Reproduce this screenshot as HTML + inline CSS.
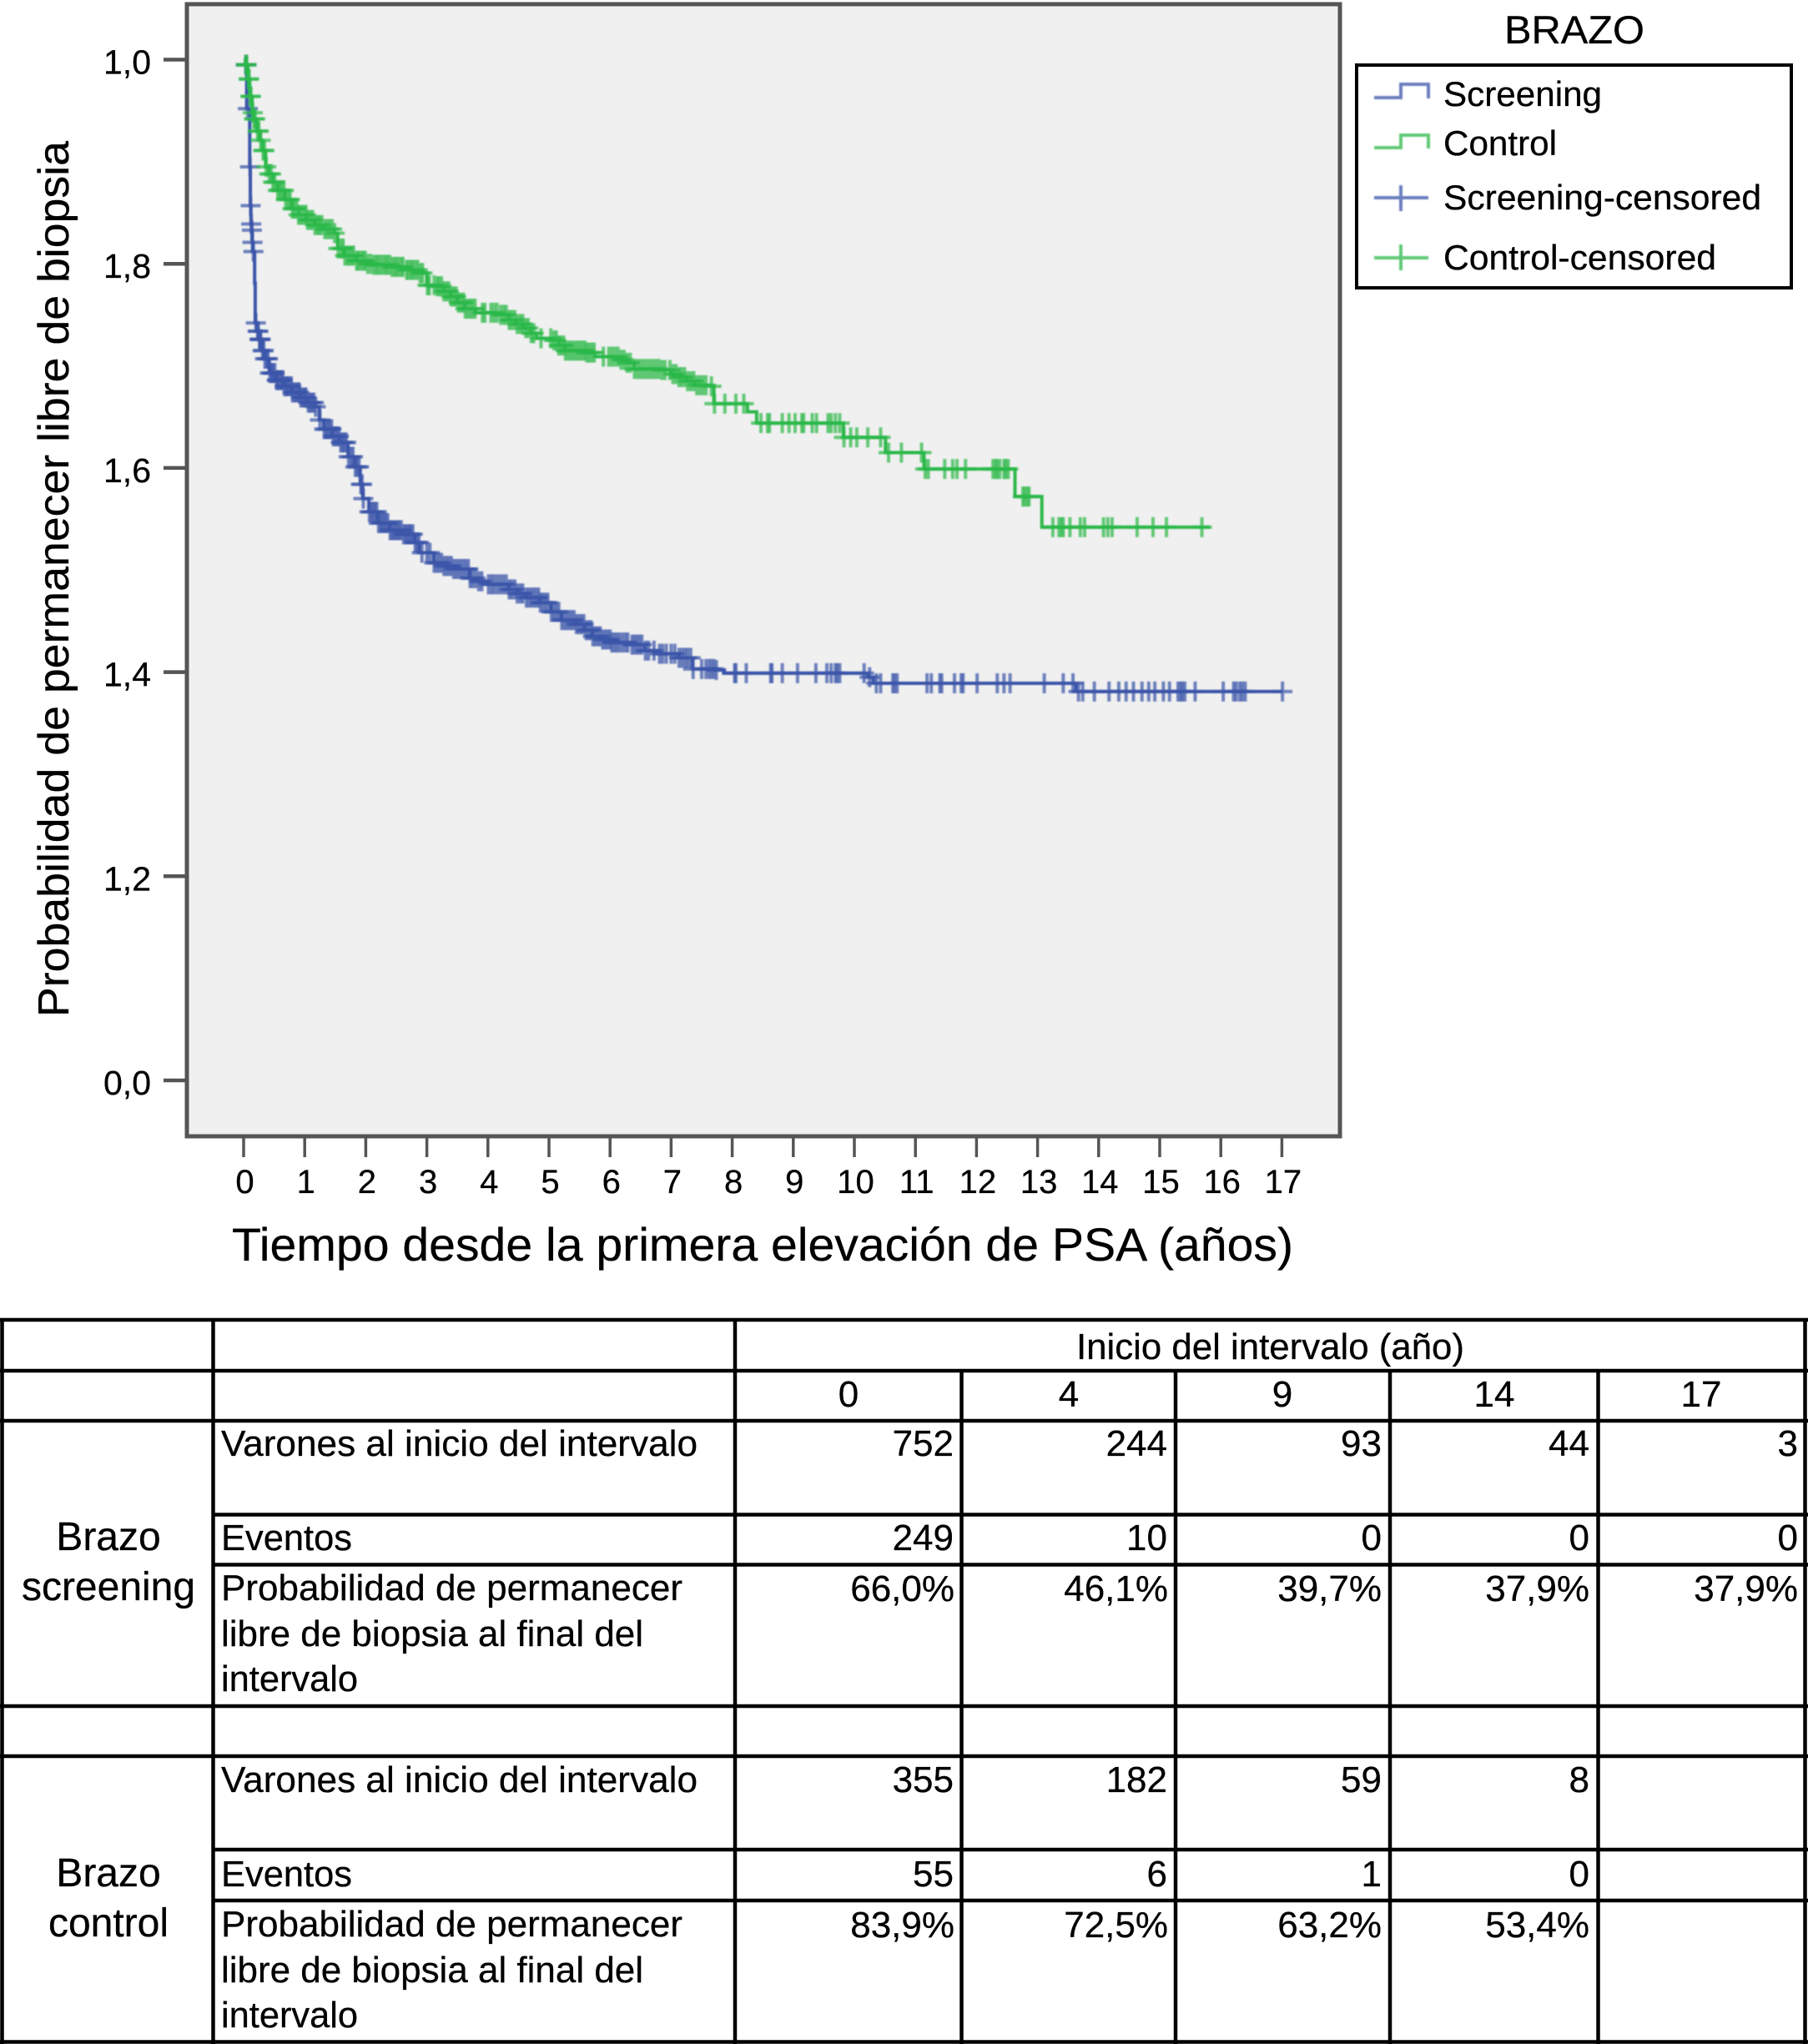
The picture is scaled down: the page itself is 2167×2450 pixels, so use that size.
<!DOCTYPE html>
<html lang="es">
<head>
<meta charset="utf-8">
<title>Probabilidad de permanecer libre de biopsia</title>
<style>
html,body{margin:0;padding:0;background:#fff;}
svg{display:block;font-family:"Liberation Sans",Arial,sans-serif;fill:#000;}
text{stroke:#000;stroke-width:.3px;}
.t{font-size:44px;}
.n{font-size:44px;text-anchor:end;}
.c{font-size:44px;text-anchor:middle;}
</style>
</head>
<body>
<svg id="figure" xmlns="http://www.w3.org/2000/svg" width="2167" height="2450" viewBox="0 0 2167 2450">
<defs><filter id="soft" x="-5%" y="-5%" width="110%" height="110%"><feGaussianBlur stdDeviation="0.8"/></filter></defs>

<rect x="224" y="5" width="1382" height="1357" fill="#f0f0f0" stroke="#555" stroke-width="5"/>
<g id="axes"></g>
<g id="marks" filter="url(#soft)"></g>

<text transform="translate(82,1219) rotate(-90)" font-size="52" textLength="1050" lengthAdjust="spacingAndGlyphs">Probabilidad de permanecer libre de biopsia</text>
<text x="278" y="1511" font-size="56" textLength="1272" lengthAdjust="spacingAndGlyphs">Tiempo desde la primera elevación de PSA (años)</text>

<g>
  <text x="1803" y="52" font-size="47" textLength="168" lengthAdjust="spacingAndGlyphs">BRAZO</text>
  <rect x="1626" y="78" width="521" height="267" fill="#fff" stroke="#000" stroke-width="4"/>
  <g filter="url(#soft)" fill="none" stroke-width="4" opacity="0.75">
    <path d="M1647 117H1679V101H1712V118" stroke="#3a55a9"/>
    <path d="M1647 177H1679V162H1712V178" stroke="#2db84a"/>
    <path d="M1647 237H1712M1679 222V253" stroke="#3a55a9"/>
    <path d="M1647 309H1712M1679 293V324" stroke="#2db84a"/>
  </g>
  <text x="1730" y="127" font-size="42" textLength="190" lengthAdjust="spacingAndGlyphs">Screening</text>
  <text x="1730" y="186" font-size="42" textLength="136" lengthAdjust="spacingAndGlyphs">Control</text>
  <text x="1730" y="251" font-size="42" textLength="381" lengthAdjust="spacingAndGlyphs">Screening-censored</text>
  <text x="1730" y="323" font-size="42" textLength="327" lengthAdjust="spacingAndGlyphs">Control-censored</text>
</g>

<g>
  <g stroke="#000" stroke-width="4.5" fill="none">
    <path d="M0 1582H2167M0 1643H2167M0 1703H2167M255 1815.5H2167M255 1875.5H2167M0 2045H2167M0 2105H2167M255 2217H2167M255 2278H2167M0 2447.5H2167"/>
    <path d="M2.5 1580V2450M255.5 1580V2450M881 1580V2450M1152.5 1643V2450M1409 1643V2450M1666 1643V2450M1915.5 1643V2450M2163.5 1580V2450"/>
  </g>
  <text class="t" x="1290" y="1629" textLength="465" lengthAdjust="spacingAndGlyphs">Inicio del intervalo (año)</text>
  <text class="c" x="1017" y="1686">0</text>
  <text class="c" x="1281" y="1686">4</text>
  <text class="c" x="1537" y="1686">9</text>
  <text class="c" x="1791" y="1686">14</text>
  <text class="c" x="2039" y="1686">17</text>

  <text font-size="48" text-anchor="middle" x="130" y="1858">Brazo</text>
  <text font-size="48" text-anchor="middle" x="130" y="1918">screening</text>
  <text class="t" x="265" y="1745" textLength="571" lengthAdjust="spacingAndGlyphs">Varones al inicio del intervalo</text>
  <text class="t" x="265" y="1858" textLength="157" lengthAdjust="spacingAndGlyphs">Eventos</text>
  <text class="t" x="265" y="1918" textLength="553" lengthAdjust="spacingAndGlyphs">Probabilidad de permanecer</text>
  <text class="t" x="265" y="1973" textLength="506" lengthAdjust="spacingAndGlyphs">libre de biopsia al final del</text>
  <text class="t" x="265" y="2027" textLength="164" lengthAdjust="spacingAndGlyphs">intervalo</text>

  <g>
    <text class="n" x="1143" y="1745">752</text><text class="n" x="1399" y="1745">244</text><text class="n" x="1656" y="1745">93</text><text class="n" x="1905" y="1745">44</text><text class="n" x="2155" y="1745">3</text>
  </g>
  <g>
    <text class="n" x="1143" y="1858">249</text><text class="n" x="1399" y="1858">10</text><text class="n" x="1656" y="1858">0</text><text class="n" x="1905" y="1858">0</text><text class="n" x="2155" y="1858">0</text>
  </g>
  <g>
    <text class="n" x="1144" y="1919">66,0%</text><text class="n" x="1400" y="1919">46,1%</text><text class="n" x="1656" y="1919">39,7%</text><text class="n" x="1905" y="1919">37,9%</text><text class="n" x="2155" y="1919">37,9%</text>
  </g>

  <text font-size="48" text-anchor="middle" x="130" y="2261">Brazo</text>
  <text font-size="48" text-anchor="middle" x="130" y="2321">control</text>
  <text class="t" x="265" y="2148" textLength="571" lengthAdjust="spacingAndGlyphs">Varones al inicio del intervalo</text>
  <text class="t" x="265" y="2261" textLength="157" lengthAdjust="spacingAndGlyphs">Eventos</text>
  <text class="t" x="265" y="2321" textLength="553" lengthAdjust="spacingAndGlyphs">Probabilidad de permanecer</text>
  <text class="t" x="265" y="2376" textLength="506" lengthAdjust="spacingAndGlyphs">libre de biopsia al final del</text>
  <text class="t" x="265" y="2430" textLength="164" lengthAdjust="spacingAndGlyphs">intervalo</text>

  <g>
    <text class="n" x="1143" y="2148">355</text><text class="n" x="1399" y="2148">182</text><text class="n" x="1656" y="2148">59</text><text class="n" x="1905" y="2148">8</text>
  </g>
  <g>
    <text class="n" x="1143" y="2261">55</text><text class="n" x="1399" y="2261">6</text><text class="n" x="1656" y="2261">1</text><text class="n" x="1905" y="2261">0</text>
  </g>
  <g>
    <text class="n" x="1144" y="2322">83,9%</text><text class="n" x="1400" y="2322">72,5%</text><text class="n" x="1656" y="2322">63,2%</text><text class="n" x="1905" y="2322">53,4%</text>
  </g>
</g>
</svg>

<script>
var xTickValues = [0,1,2,3,4,5,6,7,8,9,10,11,12,13,14,15,16,17];
var xTickLabels = ["0","1","2","3","4","5","6","7","8","9","10","11","12","13","14","15","16","17"];
var yTickValues = [1,0.8,0.6,0.4,0.2,0];
var yTickLabels = ["1,0","1,8","1,6","1,4","1,2","0,0"];

var screeningTimes = [0,.03,.05,.10,.11,.12,.13,.14,.15,.18,.19,.22,.25,.30,.34,.42,.53,.66,.79,.93,1.05,1.17,1.24,1.31,1.45,1.57,1.71,1.82,1.91,1.95,2.05,2.20,2.39,2.61,2.80,2.88,3.11,3.27,3.43,3.70,3.85,4.00,4.34,4.48,4.62,4.85,5.03,5.20,5.44,5.58,5.71,5.86,6.02,6.35,6.57,6.80,7.12,7.35,7.72,7.86,10.22,10.31,13.63,17.01];
var screeningSurvival = [1,.995,.952,.895,.857,.839,.833,.821,.812,.781,.742,.734,.726,.715,.707,.693,.686,.680,.674,.669,.664,.660,.647,.638,.631,.625,.611,.601,.584,.570,.557,.546,.539,.535,.527,.517,.507,.504,.501,.492,.489,.486,.481,.477,.473,.468,.459,.451,.447,.441,.435,.432,.429,.427,.421,.418,.414,.403,.402,.399,.395,.389,.381,.381];
var screeningCensorTimes = [.035,.04,.045,.07,.105,.115,.125,.135,.145,.16,.2,.23,.24,.26,.27,.28,.31,.33,.35,.38,.40,.43,.46,.48,.51,.54,.56,.59,.62,.64,.67,.7,.72,.75,.78,.8,.83,.86,.89,.91,.94,.97,1.0,1.02,1.06,1.09,1.12,1.15,1.18,1.25,1.32,1.35,1.38,1.41,1.44,1.47,1.5,1.53,1.56,1.59,1.62,1.65,1.68,1.72,1.76,1.79,1.83,1.86,1.89,1.92,1.94,1.96,2.06,2.09,2.12,2.15,2.18,2.21,2.24,2.27,2.3,2.33,2.36,2.4,2.43,2.46,2.49,2.52,2.55,2.58,2.62,2.65,2.68,2.71,2.74,2.77,2.81,2.84,2.87,2.92,3.0,3.05,3.12,3.16,3.2,3.24,3.28,3.32,3.36,3.4,3.44,3.48,3.52,3.56,3.6,3.64,3.68,3.71,3.75,3.8,3.85,3.9,4.01,4.06,4.1,4.15,4.2,4.25,4.3,4.35,4.39,4.44,4.48,4.53,4.57,4.63,4.67,4.71,4.75,4.79,4.83,4.86,4.9,4.94,4.98,5.04,5.08,5.12,5.16,5.21,5.25,5.29,5.33,5.37,5.41,5.45,5.49,5.53,5.57,5.61,5.65,5.69,5.72,5.76,5.8,5.84,5.88,5.92,5.96,6.0,6.03,6.07,6.11,6.15,6.2,6.25,6.29,6.36,6.4,6.44,6.48,6.52,6.58,6.63,6.72,6.81,6.86,6.92,7.0,7.06,7.13,7.18,7.23,7.27,7.32,7.36,7.5,7.57,7.62,7.66,7.7,7.74,8.04,8.06,8.23,8.63,8.65,8.82,9.07,9.37,9.55,9.62,9.69,9.72,9.76,10.16,10.25,10.36,10.43,10.63,10.66,10.70,11.19,11.26,11.40,11.43,11.64,11.75,11.78,12.01,12.34,12.45,12.55,13.11,13.42,13.58,13.67,13.74,13.93,14.17,14.33,14.45,14.57,14.71,14.82,14.92,15.06,15.16,15.30,15.34,15.37,15.41,15.58,16.04,16.21,16.25,16.31,16.35,16.40,17.01];

var controlTimes = [0,.03,.07,.10,.14,.16,.22,.27,.31,.36,.41,.48,.55,.67,.79,.90,1.03,1.16,1.30,1.48,1.54,1.65,1.84,2.0,2.12,2.4,2.66,2.88,3.0,3.16,3.28,3.39,3.5,3.62,3.80,4.17,4.34,4.46,4.58,4.7,4.80,5.07,5.16,5.26,5.61,5.75,6.16,6.28,6.39,6.84,7.0,7.12,7.25,7.39,7.65,7.70,8.25,8.40,9.82,10.51,11.14,12.63,13.07,15.82];
var controlSurvival = [1,.995,.981,.964,.948,.942,.930,.921,.911,.895,.888,.880,.872,.863,.854,.848,.843,.838,.834,.830,.815,.808,.803,.800,.799,.797,.794,.791,.779,.778,.773,.768,.762,.756,.752,.750,.745,.741,.737,.732,.727,.725,.720,.715,.713,.709,.706,.703,.697,.696,.692,.689,.685,.681,.680,.663,.655,.644,.630,.615,.599,.572,.542,.542];
var controlCensorTimes = [.04,.05,.08,.09,.11,.12,.15,.17,.19,.23,.25,.28,.32,.34,.37,.42,.45,.48,.51,.56,.59,.62,.66,.69,.73,.76,.80,.83,.87,.90,.94,.98,1.02,1.05,1.09,1.13,1.17,1.21,1.24,1.28,1.33,1.37,1.41,1.45,1.49,1.55,1.6,1.63,1.66,1.7,1.73,1.77,1.8,1.85,1.88,1.92,1.96,1.99,2.03,2.08,2.13,2.17,2.2,2.24,2.28,2.32,2.35,2.39,2.43,2.47,2.5,2.54,2.58,2.61,2.67,2.7,2.74,2.77,2.81,2.85,2.89,2.93,3.01,3.04,3.12,3.17,3.2,3.24,3.28,3.32,3.36,3.4,3.44,3.48,3.52,3.56,3.6,3.63,3.67,3.71,3.75,3.79,3.91,3.95,4.05,4.1,4.15,4.21,4.26,4.3,4.35,4.39,4.44,4.48,4.53,4.57,4.62,4.66,4.71,4.75,4.87,5.03,5.08,5.12,5.16,5.2,5.24,5.27,5.31,5.35,5.39,5.43,5.47,5.51,5.55,5.59,5.62,5.66,5.7,5.74,5.89,5.98,6.03,6.08,6.13,6.18,6.23,6.28,6.33,6.4,6.45,6.5,6.55,6.6,6.65,6.7,6.75,6.8,6.85,6.9,6.98,7.03,7.08,7.13,7.17,7.22,7.27,7.32,7.37,7.42,7.47,7.52,7.57,7.66,7.71,7.88,8.06,8.19,8.47,8.58,8.61,8.82,8.93,9.03,9.14,9.17,9.31,9.38,9.57,9.62,9.69,9.76,9.83,9.94,10.04,10.22,10.43,10.56,10.77,11.10,11.16,11.21,11.48,11.61,11.68,11.82,12.27,12.31,12.34,12.38,12.45,12.48,12.52,12.76,12.79,12.83,12.86,13.25,13.35,13.39,13.42,13.53,13.70,13.77,14.08,14.15,14.22,14.63,14.89,15.11,15.69];

var NS = "http://www.w3.org/2000/svg";
var axesGroup = document.getElementById("axes");
var marksGroup = document.getElementById("marks");

function xScale(t){ return 292 + 73.2 * t; }
function yScale(s){ return 1295 - 1223.5 * s; }

function make(tag, parent){
  var el = document.createElementNS(NS, tag);
  parent.appendChild(el);
  return el;
}

function survivalAt(times, survival, t){
  var s = survival[0];
  for (var i = 0; i < times.length; i++){
    if (times[i] <= t) { s = survival[i]; }
  }
  return s;
}

function stepPath(times, survival){
  var d = "M" + xScale(times[0]) + " " + yScale(survival[0]);
  for (var i = 1; i < times.length; i++){
    d += "H" + xScale(times[i]) + "V" + yScale(survival[i]);
  }
  return d;
}

xTickValues.forEach(function(v, i){
  var tick = make("path", axesGroup);
  
  
  tick.setAttribute("d", "M" + xScale(v) + " 1362V1387");
  tick.setAttribute("stroke", "#555");
  tick.setAttribute("stroke-width", "3.5");
  var label = make("text", axesGroup);
  
  
  label.setAttribute("x", xScale(v) + 1.5);
  label.setAttribute("y", "1430");
  label.setAttribute("font-size", "40");
  label.setAttribute("text-anchor", "middle");
  label.textContent = xTickLabels[i];
});

yTickValues.forEach(function(v, i){
  var tick = make("path", axesGroup);
  
  
  tick.setAttribute("d", "M196 " + yScale(v) + "H224");
  tick.setAttribute("stroke", "#555");
  tick.setAttribute("stroke-width", "4.5");
  var label = make("text", axesGroup);
  
  
  label.setAttribute("x", "181");
  label.setAttribute("y", yScale(v) + 17);
  label.setAttribute("font-size", "41");
  label.setAttribute("text-anchor", "end");
  label.textContent = yTickLabels[i];
});

function drawCensors(times, survival, censorTimes, color, name){
  var group = make("g", marksGroup);
  
  
  censorTimes.forEach(function(t){
    var x = xScale(t);
    var y = yScale(survivalAt(times, survival, t));
    var mark = make("path", group);
    
    
    mark.setAttribute("d", "M" + (x - 12) + " " + y + "H" + (x + 12) + "M" + x + " " + (y - 12) + "V" + (y + 12));
    mark.setAttribute("stroke", color);
    mark.setAttribute("stroke-width", "4");
    mark.setAttribute("stroke-opacity", "0.72");
    mark.setAttribute("fill", "none");
  });
}

var screeningLine = make("path", marksGroup);


screeningLine.setAttribute("d", stepPath(screeningTimes, screeningSurvival));
screeningLine.setAttribute("stroke", "#3a55a9");
screeningLine.setAttribute("stroke-width", "4");
screeningLine.setAttribute("fill", "none");
drawCensors(screeningTimes, screeningSurvival, screeningCensorTimes, "#3a55a9", "screening");

var controlLine = make("path", marksGroup);


controlLine.setAttribute("d", stepPath(controlTimes, controlSurvival));
controlLine.setAttribute("stroke", "#2db84a");
controlLine.setAttribute("stroke-width", "4");
controlLine.setAttribute("fill", "none");
drawCensors(controlTimes, controlSurvival, controlCensorTimes, "#2db84a", "control");
</script>
</body>
</html>
